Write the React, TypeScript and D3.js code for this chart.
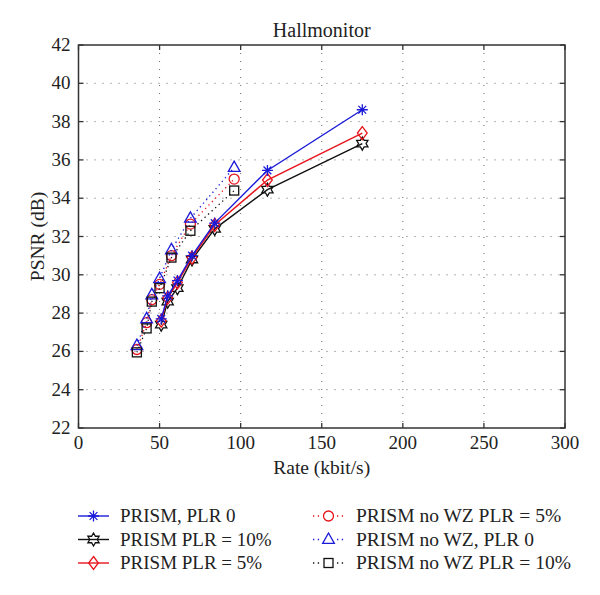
import React from "react";
import * as d3 from "d3";

const solidRates = [51, 55, 61, 70, 84, 116.5, 175];
const prismPlr0 = [27.7, 28.9, 29.7, 31.0, 32.7, 35.45, 38.62];
const prismPlr10 = [27.4, 28.6, 29.3, 30.8, 32.4, 34.45, 36.85];
const prismPlr5 = [27.6, 28.8, 29.6, 30.9, 32.6, 34.95, 37.4];

const dotRates = [36, 42, 45.2, 50, 57.3, 69, 96];
const noWzPlr5 = [26.1, 27.5, 28.7, 29.5, 31.0, 32.65, 35.0];
const noWzPlr0 = [26.3, 27.7, 28.95, 29.8, 31.3, 32.95, 35.6];
const noWzPlr10 = [25.95, 27.2, 28.6, 29.3, 30.9, 32.3, 34.4];

const xTicks = [0, 50, 100, 150, 200, 250, 300];
const yTicks = [22, 24, 26, 28, 30, 32, 34, 36, 38, 40, 42];

type Series = {
  name: string;
  rates: number[];
  values: number[];
  color: string;
  marker: string;
  dotted: boolean;
};

const seriesList: Series[] = [
  { name: "PRISM no WZ PLR = 5%", rates: dotRates, values: noWzPlr5, color: "#e8141c", marker: "circle", dotted: true },
  { name: "PRISM no WZ, PLR 0", rates: dotRates, values: noWzPlr0, color: "#1a1ad8", marker: "triangle", dotted: true },
  { name: "PRISM no WZ PLR = 10%", rates: dotRates, values: noWzPlr10, color: "#111111", marker: "square", dotted: true },
  { name: "PRISM PLR = 10%", rates: solidRates, values: prismPlr10, color: "#111111", marker: "hexagram", dotted: false },
  { name: "PRISM PLR = 5%", rates: solidRates, values: prismPlr5, color: "#e8141c", marker: "diamond", dotted: false },
  { name: "PRISM, PLR 0", rates: solidRates, values: prismPlr0, color: "#1a1ad8", marker: "asterisk", dotted: false },
];

const legendLeft = ["PRISM, PLR 0", "PRISM PLR = 10%", "PRISM PLR = 5%"];
const legendRight = ["PRISM no WZ PLR = 5%", "PRISM no WZ, PLR 0", "PRISM no WZ PLR = 10%"];

function Marker({ type, x, y, color }: { type: string; x: number; y: number; color: string }) {
  const common = { fill: "none", stroke: color, strokeWidth: 1.3 };
  if (type === "circle") return <circle cx={x} cy={y} r={5} {...common} />;
  if (type === "square") return <rect x={x - 4.5} y={y - 4.5} width={9} height={9} {...common} />;
  if (type === "triangle") {
    const r = 6.5;
    return <path d={`M${x},${y - r} L${x + r * 0.9},${y + r * 0.6} L${x - r * 0.9},${y + r * 0.6} Z`} {...common} />;
  }
  if (type === "diamond") {
    const r = 6.5;
    return <path d={`M${x},${y - r} L${x + r * 0.75},${y} L${x},${y + r} L${x - r * 0.75},${y} Z`} {...common} />;
  }
  if (type === "hexagram") {
    const R = 6.5;
    const ri = R / Math.sqrt(3);
    const pts: string[] = [];
    for (let i = 0; i < 12; i++) {
      const a = (Math.PI / 6) * i - Math.PI / 2;
      const rr = i % 2 === 0 ? R : ri;
      pts.push(`${x + rr * Math.cos(a)},${y + rr * Math.sin(a)}`);
    }
    return <path d={`M${pts.join("L")}Z`} {...common} />;
  }
  const r = 5.5;
  const d = r * 0.7071;
  return (
    <path
      d={`M${x - r},${y}L${x + r},${y}M${x},${y - r}L${x},${y + r}M${x - d},${y - d}L${x + d},${y + d}M${x - d},${y + d}L${x + d},${y - d}`}
      {...common}
    />
  );
}

export default function App() {
  const W = 600;
  const H = 595;
  const left = 78.5;
  const right = 565;
  const top = 45;
  const bottom = 428;
  const x = d3.scaleLinear().domain([0, 300]).range([left, right]);
  const y = d3.scaleLinear().domain([22, 42]).range([bottom, top]);
  const line = d3
    .line<[number, number]>()
    .x((d) => x(d[0]))
    .y((d) => y(d[1]));
  const tStyle = { fontFamily: "Liberation Serif" };
  const byName = (n: string) => seriesList.find((s) => s.name === n)!;

  return (
    <svg width={W} height={H} style={{ position: "absolute", left: 0, top: 0, background: "#fff" }}>
      <rect x={0} y={0} width={W} height={H} fill="#fff" />
      {yTicks.slice(1, -1).map((t) => (
        <line key={"gy" + t} x1={left} x2={right} y1={y(t)} y2={y(t)} stroke="#666" strokeWidth={1} strokeDasharray="1,7" />
      ))}
      {xTicks.slice(1, -1).map((t) => (
        <line key={"gx" + t} x1={x(t)} x2={x(t)} y1={top} y2={bottom} stroke="#666" strokeWidth={1} strokeDasharray="1,7" />
      ))}
      {xTicks.map((t) => (
        <g key={"tx" + t}>
          <line x1={x(t)} x2={x(t)} y1={bottom} y2={bottom - 5} stroke="#333" strokeWidth={1.3} />
          <line x1={x(t)} x2={x(t)} y1={top} y2={top + 5} stroke="#333" strokeWidth={1.3} />
          <text x={x(t)} y={bottom + 21} textAnchor="middle" fontSize={19} fill="#222" style={tStyle}>
            {t}
          </text>
        </g>
      ))}
      {yTicks.map((t) => (
        <g key={"ty" + t}>
          <line x1={left} x2={left + 5} y1={y(t)} y2={y(t)} stroke="#333" strokeWidth={1.3} />
          <line x1={right} x2={right - 5} y1={y(t)} y2={y(t)} stroke="#333" strokeWidth={1.3} />
          <text x={left - 8} y={y(t) + 6} textAnchor="end" fontSize={19} fill="#222" style={tStyle}>
            {t}
          </text>
        </g>
      ))}
      <rect x={left} y={top} width={right - left} height={bottom - top} fill="none" stroke="#333" strokeWidth={1.5} />
      {seriesList.map((s) => {
        const pts = s.rates.map((r, i) => [r, s.values[i]] as [number, number]);
        return (
          <g key={s.name}>
            <path
              d={line(pts) || ""}
              fill="none"
              stroke={s.color}
              strokeWidth={s.dotted ? 1.3 : 1.4}
              strokeDasharray={s.dotted ? "1.3,3.5" : undefined}
            />
            {pts.map((p, i) => (
              <Marker key={i} type={s.marker} x={x(p[0])} y={y(p[1])} color={s.color} />
            ))}
          </g>
        );
      })}
      <text x={(left + right) / 2} y={37} textAnchor="middle" fontSize={20} fill="#222" style={tStyle}>
        Hallmonitor
      </text>
      <text x={(left + right) / 2} y={474} textAnchor="middle" fontSize={19.5} fill="#222" style={tStyle}>
        Rate (kbit/s)
      </text>
      <text transform={`translate(44, ${(top + bottom) / 2}) rotate(-90)`} textAnchor="middle" fontSize={19.5} fill="#222" style={tStyle}>
        PSNR (dB)
      </text>
      {legendLeft.map((n, i) => {
        const s = byName(n);
        const ly = 516 + i * 23.5;
        return (
          <g key={n}>
            <line x1={78} x2={109} y1={ly} y2={ly} stroke={s.color} strokeWidth={1.4} />
            <Marker type={s.marker} x={93.5} y={ly} color={s.color} />
            <text x={120} y={ly + 6} fontSize={19} fill="#222" style={tStyle}>
              {n}
            </text>
          </g>
        );
      })}
      {legendRight.map((n, i) => {
        const s = byName(n);
        const ly = 516 + i * 23.5;
        return (
          <g key={n}>
            <line x1={313} x2={346} y1={ly} y2={ly} stroke={s.color} strokeWidth={1.3} strokeDasharray="1.3,3.5" />
            <rect x={321} y={ly - 7} width={15} height={14} fill="#fff" />
            <Marker type={s.marker} x={328.5} y={ly} color={s.color} />
            <text x={356} y={ly + 6} fontSize={19.5} fill="#222" style={tStyle}>
              {n}
            </text>
          </g>
        );
      })}
    </svg>
  );
}
